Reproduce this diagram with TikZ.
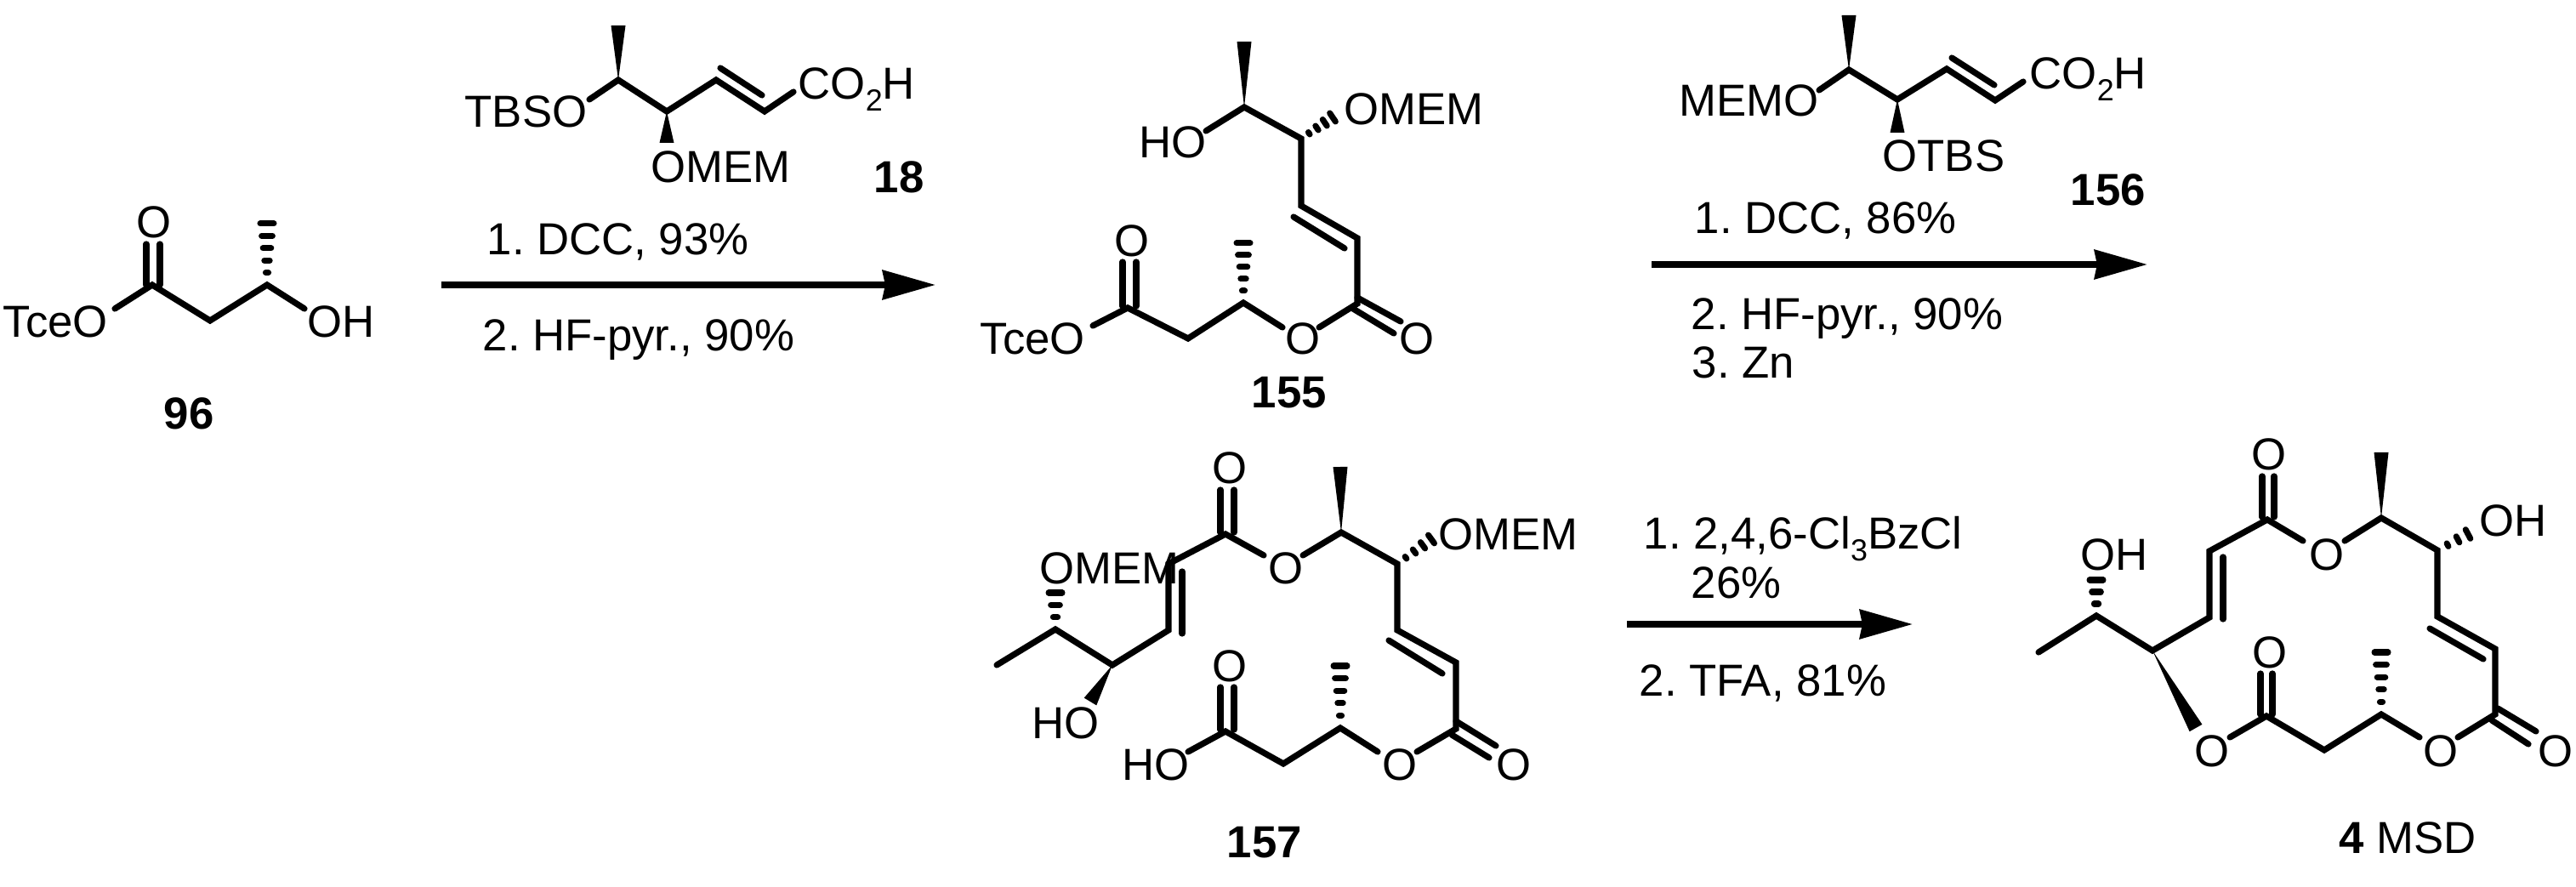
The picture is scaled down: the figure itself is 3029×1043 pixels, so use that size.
\documentclass[tikz,border=0pt]{standalone}
\usepackage{fontspec}
\setmainfont{Liberation Sans}
\usepackage{tikz}
\usetikzlibrary{calc,arrows.meta}
\frenchspacing
\tikzset{
    lab/.style={anchor=base west, inner sep=0pt, font=\fontsize{15}{18}\selectfont},
    cmpd/.style={lab, font=\fontsize{15}{18}\selectfont\bfseries},
    bond/.style={line width=0.072cm, line cap=round},
    hashline/.style={line width=0.07cm, line cap=round},
    rxn/.style={line width=0.072cm, -{Stealth[length=0.62cm, width=0.34cm, inset=0.03cm]}}
}
\newcommand{\subn}[1]{\raisebox{-0.25em}{\fontsize{10.2}{12}\selectfont #1}}
\newcommand{\wedgebond}[3]{\fill (#1) -- ($(#2)!#3 cm!90:(#1)$) -- ($(#2)!#3 cm!-90:(#1)$) -- cycle;}
\newcommand{\hashbond}[4]{\foreach \i in {1,...,#3} {
    \pgfmathsetmacro\hpos{\i/#3}
    \pgfmathsetmacro\hwid{#4*\hpos}
    \draw[hashline] ($(#1)!\hpos!(#2)!\hwid cm!90:(#1)$) -- ($(#1)!\hpos!(#2)!\hwid cm!-90:(#1)$);
}}
\begin{document}
\begin{tikzpicture}[x=0.01cm, y=-0.01cm]
    \useasboundingbox (0,0) rectangle (3029,1043);

    \path (135,363) coordinate (aoe) (179,335) coordinate (aco) (247,377) coordinate (ach)
        (314,335) coordinate (acm) (358,363) coordinate (aoh) (314,263) coordinate (ahs);
    \draw[bond] (aoe) -- (aco) -- (ach) -- (acm) -- (aoh);
    \draw[bond] (172,287) coordinate (ad1) -- (172,335) coordinate (ad2);
    \draw[bond] (188,287) coordinate (ad3) -- (188,335) coordinate (ad4);
    \hashbond{acm}{ahs}{5}{0.08}
    \node[lab] (atce) at (3,397) {TceO};
    \node[lab] (aoo) at (160,280) {O};
    \node[lab] (ahyd) at (361,397) {OH};
    \node[cmpd] (a96) at (192,505) {96};

    \path (693,117) coordinate (boe) (727,94) coordinate (bc1) (784,131) coordinate (bc2)
        (842,94) coordinate (bc3) (899,131) coordinate (bc4) (933,108) coordinate (bc5)
        (727,30) coordinate (bme) (784,168) coordinate (bom) (847,80) coordinate (bd1) (896,112) coordinate (bd2);
    \draw[bond] (boe) -- (bc1) -- (bc2) -- (bc3) -- (bc4) -- (bc5);
    \draw[bond] (bd1) -- (bd2);
    \wedgebond{bc1}{bme}{0.085}
    \wedgebond{bc2}{bom}{0.085}
    \node[lab] (btbs) at (546,150) {TBSO};
    \node[lab] (bco) at (938,117) {CO\subn{2}H};
    \node[lab] (bmem) at (765,215) {OMEM};
    \node[cmpd] (b18) at (1027,227) {18};

    \node[lab] (r1a) at (572,300) {1. DCC, 93\%};
    \node[lab] (r1b) at (567,413) {2. HF-pyr., 90\%};
    \coordinate (r1s) at (519,335);
    \coordinate (r1e) at (1100,335);
    \draw[rxn] (r1s) -- (r1e);

    \path (1285,383) coordinate (coe) (1326,362) coordinate (cc1) (1397,398) coordinate (cc2)
        (1462,356) coordinate (cc3) (1508,385) coordinate (co1) (1551,385) coordinate (co2)
        (1596,357) coordinate (cc4) (1596,280) coordinate (cc5) (1530,242) coordinate (cc6)
        (1530,163) coordinate (cc7) (1463,126) coordinate (cc8) (1418,154) coordinate (coh)
        (1462,286) coordinate (chs) (1463,49) coordinate (cme) (1567,138) coordinate (chm)
        (1320,308) coordinate (cd1) (1320,360) coordinate (cd2) (1336,308) coordinate (cd3) (1336,360) coordinate (cd4)
        (1521,255) coordinate (cd5) (1581,292) coordinate (cd6)
        (1596,350) coordinate (cd7) (1647,378) coordinate (cd8) (1591,363) coordinate (cd9) (1639,392) coordinate (cd10);
    \draw[bond] (coe) -- (cc1) -- (cc2) -- (cc3) -- (co1);
    \draw[bond] (co2) -- (cc4) -- (cc5) -- (cc6) -- (cc7) -- (cc8) -- (coh);
    \draw[bond] (cd1) -- (cd2);
    \draw[bond] (cd3) -- (cd4);
    \draw[bond] (cd5) -- (cd6);
    \draw[bond] (cd7) -- (cd8);
    \draw[bond] (cd9) -- (cd10);
    \hashbond{cc3}{chs}{5}{0.08}
    \hashbond{cc7}{chm}{4}{0.06}
    \wedgebond{cc8}{cme}{0.085}
    \node[lab] (ctce) at (1152,417) {TceO};
    \node[lab] (coo) at (1310,302) {O};
    \node[lab] (coe2) at (1511,417) {O};
    \node[lab] (coc) at (1645,417) {O};
    \node[lab] (choh) at (1339,186) {HO};
    \node[lab] (cmem) at (1580,147) {OMEM};
    \node[cmpd] (c155) at (1471,480) {155};

    \path (2139,106) coordinate (doe) (2174,82) coordinate (dc1) (2231,117) coordinate (dc2)
        (2289,81) coordinate (dc3) (2346,118) coordinate (dc4) (2379,96) coordinate (dc5)
        (2174,18) coordinate (dme) (2231,156) coordinate (dot) (2295,68) coordinate (dd1) (2345,100) coordinate (dd2);
    \draw[bond] (doe) -- (dc1) -- (dc2) -- (dc3) -- (dc4) -- (dc5);
    \draw[bond] (dd1) -- (dd2);
    \wedgebond{dc1}{dme}{0.085}
    \wedgebond{dc2}{dot}{0.085}
    \node[lab] (dmem) at (1974,137) {MEMO};
    \node[lab] (dco) at (2386,105) {CO\subn{2}H};
    \node[lab] (dtbs) at (2213,202) {OTBS};
    \node[cmpd] (d156) at (2434,242) {156};

    \node[lab] (r2a) at (1992,275) {1. DCC, 86\%};
    \node[lab] (r2b) at (1988,388) {2. HF-pyr., 90\%};
    \node[lab] (r2c) at (1989,445) {3. Zn};
    \coordinate (r2s) at (1942,311);
    \coordinate (r2e) at (2525,311);
    \draw[rxn] (r2s) -- (r2e);

    \path (1172,782) coordinate (em1) (1241,740) coordinate (ec1) (1308,782) coordinate (ec2)
        (1374,741) coordinate (ec3) (1374,663) coordinate (ec4) (1441,628) coordinate (ec5)
        (1486,653) coordinate (eo1) (1532,653) coordinate (eo2) (1577,626) coordinate (ec6)
        (1643,663) coordinate (ec7) (1643,741) coordinate (ec8) (1712,779) coordinate (ec9)
        (1712,857) coordinate (ec10) (1666,884) coordinate (eo3) (1620,884) coordinate (eo4)
        (1576,856) coordinate (ec11) (1509,898) coordinate (ec12) (1441,860) coordinate (ec13)
        (1397,884) coordinate (eoh)
        (1241,697) coordinate (eh1) (1282,825) coordinate (ew1) (1576,549) coordinate (ew2)
        (1683,634) coordinate (eh2) (1576,783) coordinate (eh3)
        (1390,672) coordinate (ed1) (1390,745) coordinate (ed2)
        (1435,576) coordinate (ed3) (1435,626) coordinate (ed4) (1451,576) coordinate (ed5) (1451,626) coordinate (ed6)
        (1633,753) coordinate (ed7) (1696,792) coordinate (ed8)
        (1712,848) coordinate (ed9) (1759,877) coordinate (ed10) (1707,864) coordinate (ed11) (1751,891) coordinate (ed12)
        (1435,808) coordinate (ed13) (1435,858) coordinate (ed14) (1451,808) coordinate (ed15) (1451,858) coordinate (ed16);
    \draw[bond] (em1) -- (ec1) -- (ec2) -- (ec3) -- (ec4) -- (ec5) -- (eo1);
    \draw[bond] (eo2) -- (ec6) -- (ec7) -- (ec8) -- (ec9) -- (ec10) -- (eo3);
    \draw[bond] (eo4) -- (ec11) -- (ec12) -- (ec13) -- (eoh);
    \draw[bond] (ed1) -- (ed2);
    \draw[bond] (ed3) -- (ed4);
    \draw[bond] (ed5) -- (ed6);
    \draw[bond] (ed7) -- (ed8);
    \draw[bond] (ed9) -- (ed10);
    \draw[bond] (ed11) -- (ed12);
    \draw[bond] (ed13) -- (ed14);
    \draw[bond] (ed15) -- (ed16);
    \hashbond{ec1}{eh1}{3}{0.08}
    \hashbond{ec7}{eh2}{4}{0.06}
    \hashbond{ec11}{eh3}{5}{0.08}
    \wedgebond{ec2}{ew1}{0.085}
    \wedgebond{ec6}{ew2}{0.085}
    \node[lab] (emem1) at (1222,686) {OMEM};
    \node[lab] (eoo1) at (1425,569) {O};
    \node[lab] (eoo2) at (1491,686) {O};
    \node[lab] (emem2) at (1691,647) {OMEM};
    \node[lab] (eho1) at (1213,868) {HO};
    \node[lab] (eoo3) at (1425,801) {O};
    \node[lab] (eho2) at (1319,917) {HO};
    \node[lab] (eoo4) at (1625,917) {O};
    \node[lab] (eoo5) at (1759,917) {O};
    \node[cmpd] (e157) at (1442,1008) {157};

    \node[lab] (r3a) at (1932,646) {1. 2,4,6-Cl\subn{3}BzCl};
    \node[lab] (r3b) at (1988,703) {26\%};
    \node[lab] (r3c) at (1927,818) {2. TFA, 81\%};
    \coordinate (r3s) at (1913,734);
    \coordinate (r3e) at (2249,734);
    \draw[rxn] (r3s) -- (r3e);

    \path (2397,767) coordinate (fm1) (2465,724) coordinate (fc1) (2531,765) coordinate (fc2)
        (2598,726) coordinate (fc3) (2598,648) coordinate (fc4) (2666,611) coordinate (fc5)
        (2708,636) coordinate (fo1) (2757,636) coordinate (fo2) (2800,609) coordinate (fc6)
        (2866,647) coordinate (fc7) (2866,725) coordinate (fc8) (2934,763) coordinate (fc9)
        (2934,840) coordinate (fc10) (2890,867) coordinate (fo3) (2845,867) coordinate (fo4)
        (2800,840) coordinate (fc11) (2733,882) coordinate (fc12) (2665,842) coordinate (fc13)
        (2622,867) coordinate (fo5)
        (2465,682) coordinate (fh1) (2902,628) coordinate (fh2) (2800,767) coordinate (fh3)
        (2800,532) coordinate (fw1) (2582,856) coordinate (fw2)
        (2614,655) coordinate (fd1) (2614,728) coordinate (fd2)
        (2660,560) coordinate (fd3) (2660,608) coordinate (fd4) (2674,560) coordinate (fd5) (2674,608) coordinate (fd6)
        (2857,739) coordinate (fd7) (2920,775) coordinate (fd8)
        (2937,833) coordinate (fd9) (2982,860) coordinate (fd10) (2930,847) coordinate (fd11) (2973,875) coordinate (fd12)
        (2658,792) coordinate (fd13) (2658,840) coordinate (fd14) (2672,792) coordinate (fd15) (2672,840) coordinate (fd16);
    \draw[bond] (fm1) -- (fc1) -- (fc2) -- (fc3) -- (fc4) -- (fc5) -- (fo1);
    \draw[bond] (fo2) -- (fc6) -- (fc7) -- (fc8) -- (fc9) -- (fc10) -- (fo3);
    \draw[bond] (fo4) -- (fc11) -- (fc12) -- (fc13) -- (fo5);
    \draw[bond] (fd1) -- (fd2);
    \draw[bond] (fd3) -- (fd4);
    \draw[bond] (fd5) -- (fd6);
    \draw[bond] (fd7) -- (fd8);
    \draw[bond] (fd9) -- (fd10);
    \draw[bond] (fd11) -- (fd12);
    \draw[bond] (fd13) -- (fd14);
    \draw[bond] (fd15) -- (fd16);
    \hashbond{fc1}{fh1}{3}{0.08}
    \hashbond{fc7}{fh2}{3}{0.06}
    \hashbond{fc11}{fh3}{5}{0.08}
    \wedgebond{fc2}{fw2}{0.085}
    \wedgebond{fc6}{fw1}{0.085}
    \node[lab] (fhy1) at (2446,670) {OH};
    \node[lab] (foo1) at (2647,553) {O};
    \node[lab] (foo2) at (2715,670) {O};
    \node[lab] (fhy2) at (2915,631) {OH};
    \node[lab] (foo3) at (2648,785) {O};
    \node[lab] (foo4) at (2580,901) {O};
    \node[lab] (foo5) at (2849,901) {O};
    \node[lab] (foo6) at (2984,901) {O};
    \node[lab] (fmsd) at (2750,1003) {\textbf{4} MSD};
\end{tikzpicture}
\end{document}
